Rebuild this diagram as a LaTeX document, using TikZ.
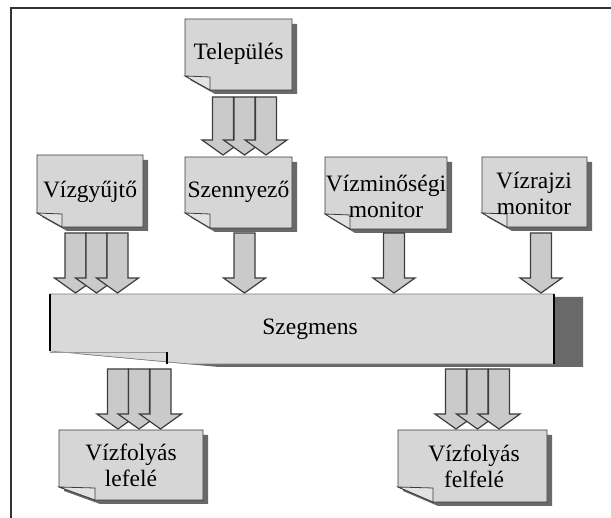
\documentclass[tikz,border=0pt]{standalone}
\usepackage{fontspec}
\setmainfont{Liberation Serif}
\definecolor{boxfill}{RGB}{214,214,214}
\definecolor{foldfill}{RGB}{226,226,226}
\definecolor{arrowfill}{RGB}{202,202,202}
\definecolor{barfill}{RGB}{217,217,217}
\definecolor{shadowc}{RGB}{105,105,105}
\definecolor{edgec}{RGB}{60,60,60}
\definecolor{framec}{RGB}{50,50,50}
\tikzset{
  docline/.style={draw=edgec, line width=0.8pt, line join=miter},
  arrowshape/.style={draw=edgec, line width=1.2pt, fill=arrowfill, line join=miter},
  lbl/.style={font=\fontsize{23.5}{26}\selectfont, align=center, inner sep=0pt, text=black},
  thickbar/.style={draw=black, line width=2.6pt}
}
% document shape: x1 y1 x2 y2 foldw foldh
\newcommand\mydoc[6]{%
  \fill[shadowc] ({#1+5},{#2+5}) -- ({#3+5},{#2+5}) -- ({#3+5},{#4+4}) -- ({#1+#5+5},{#4+4}) -- ({#1+5},{#4-#6+4}) -- cycle;
  \draw[docline, fill=boxfill] (#1,#2) -- (#3,#2) -- (#3,#4) -- ({#1+#5},#4) -- (#1,{#4-#6}) -- cycle;
  \draw[docline, fill=foldfill] (#1,{#4-#6}) -- ({#1+#5},{#4-#6+1}) -- ({#1+#5},#4) -- cycle;
}
% block arrow: xcenter ytop ytip
\newcommand\blockarrow[3]{%
  \draw[arrowshape] ({#1-10.5},#2) -- ({#1+10.5},#2) -- ({#1+10.5},{#3-15}) -- ({#1+21},{#3-15})
    -- (#1,#3) -- ({#1-21},{#3-15}) -- ({#1-10.5},{#3-15}) -- cycle;
}
\begin{document}
\begin{tikzpicture}[x=1pt,y=-1pt]
\useasboundingbox (0,0) rectangle (611,518);
% frame
\draw[framec, line width=1.5pt] (11,518) -- (11,8) -- (611,8);

% documents
\mydoc{185}{19}{292}{90}{25}{14}
\mydoc{37}{155}{143}{227}{25}{14}
\mydoc{185}{157}{292}{228}{25}{15}
\mydoc{325}{157}{447}{229}{25}{15}
\mydoc{482}{157}{587}{227}{25}{14}
\mydoc{59}{430}{203}{500}{36}{13}
\mydoc{398}{430}{547}{502}{35}{15}

\node[lbl] (telepules) at (238.5,54) {Település};
\node[lbl] (vizgyujto) at (90,192) {Vízgyűjtő};
\node[lbl] (szennyezo) at (238.5,192) {Szennyező};
\node[lbl] (vizminoseg) at (386,196) {Vízminőségi\\monitor};
\node[lbl] (vizrajzi) at (534,193) {Vízrajzi\\monitor};
\node[lbl] (lefele) at (131,465) {Vízfolyás\\lefelé};
\node[lbl] (felfele) at (474,466) {Vízfolyás\\felfelé};

% segment bar
\fill[shadowc] (79,297) -- (583,297) -- (583,367) -- (219,367) -- (79,354) -- cycle;
\draw[draw=gray, line width=0.6pt, fill=barfill] (50,294) -- (554,294) -- (554,364) -- (190,364) -- (50,351) -- cycle;
\draw[gray!80, line width=0.6pt] (50,352) -- (167,352);
\draw[thickbar] (50,294) -- (50,351);
\draw[thickbar] (554,294) -- (554,364);
\draw[thickbar] (167,352) -- (167,364);
\node[lbl] (szegmens) at (310,329) {Szegmens};

% arrows into Szennyező
\blockarrow{223}{97}{155}
\blockarrow{244.5}{97}{155}
\blockarrow{266}{97}{155}
% arrows into bar
\blockarrow{75.5}{233}{293}
\blockarrow{96.5}{233}{293}
\blockarrow{117.5}{233}{293}
\blockarrow{244.5}{233}{293}
\blockarrow{394}{233}{293}
\blockarrow{541}{233}{293}
% arrows out of bar
\blockarrow{118}{369}{429}
\blockarrow{139}{369}{429}
\blockarrow{160.5}{369}{429}
\blockarrow{456}{369}{429}
\blockarrow{477.5}{369}{429}
\blockarrow{499}{369}{429}
\end{tikzpicture}
\end{document}
